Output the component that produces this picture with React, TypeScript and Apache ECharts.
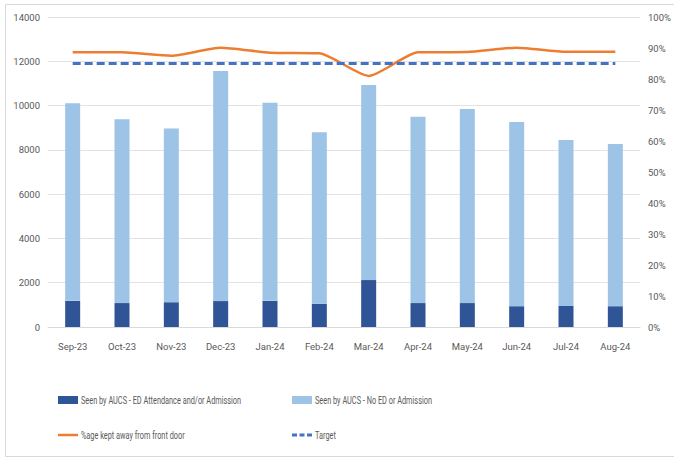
import React, { useEffect, useRef } from "react";
import * as echarts from "echarts";

const months = ["Sep-23", "Oct-23", "Nov-23", "Dec-23", "Jan-24", "Feb-24", "Mar-24", "Apr-24", "May-24", "Jun-24", "Jul-24", "Aug-24"];
const edAttendance = [1180, 1080, 1120, 1170, 1180, 1050, 2120, 1080, 1080, 940, 950, 940];
const noEdAdmission = [8920, 8300, 7850, 10390, 8950, 7740, 8810, 8420, 8770, 8320, 7500, 7330];
const keptAway = [88.6, 88.6, 87.5, 90.1, 88.5, 88.3, 81.0, 88.6, 88.7, 90.1, 88.8, 88.8];
const target = [85, 85, 85, 85, 85, 85, 85, 85, 85, 85, 85, 85];

const NAME_ED = "Seen by AUCS - ED Attendance and/or Admission";
const NAME_NO_ED = "Seen by AUCS - No ED or Admission";
const NAME_KEPT = "%age kept away from front door";
const NAME_TARGET = "Target";

const FONT = "Roboto, 'Liberation Sans', sans-serif";
const TEXT = "#595959";
const DARK = "#2f5597";
const LIGHT = "#9dc3e6";
const ORANGE = "#ed7d31";
const TARGET_BLUE = "#4472c4";

// Condensed legend label, drawn as real text squeezed horizontally
function legendText(x: number, y: number, text: string) {
  return {
    type: "text",
    x,
    y,
    scaleX: 0.7,
    silent: true,
    style: { text, fill: TEXT, fontSize: 10.5, fontFamily: FONT, verticalAlign: "middle", align: "left" },
  };
}

export default function App() {
  const ref = useRef<HTMLDivElement>(null);

  useEffect(() => {
    document.body.style.margin = "0";
    const chart = echarts.init(ref.current!, null, { renderer: "svg" });
    const labelStyle = { color: TEXT, fontSize: 9.5, fontFamily: FONT };
    chart.setOption({
      animation: false,
      textStyle: { fontFamily: FONT },
      legend: { show: false },
      graphic: [
        {
          type: "rect",
          shape: { x: 5.5, y: 4.5, width: 720, height: 452 },
          style: { fill: "none", stroke: "#d9d9d9", lineWidth: 1 },
          silent: true,
        },
        { type: "rect", shape: { x: 58, y: 396, width: 20, height: 8 }, style: { fill: DARK }, silent: true },
        legendText(81, 400.5, NAME_ED),
        { type: "rect", shape: { x: 292, y: 396, width: 20, height: 8 }, style: { fill: LIGHT }, silent: true },
        legendText(315, 400.5, NAME_NO_ED),
        { type: "line", shape: { x1: 58, y1: 435, x2: 78, y2: 435 }, style: { stroke: ORANGE, lineWidth: 2.5 }, silent: true },
        legendText(81, 435.5, NAME_KEPT),
        {
          type: "line",
          shape: { x1: 292, y1: 435, x2: 312, y2: 435 },
          style: { stroke: TARGET_BLUE, lineWidth: 3, lineDash: [5, 2.5] },
          silent: true,
        },
        legendText(315, 435.5, NAME_TARGET),
      ],
      grid: { left: 48, right: 34, top: 17, bottom: 132 },
      xAxis: {
        type: "category",
        data: months,
        axisLine: { lineStyle: { color: "#d9d9d9" } },
        axisTick: { show: false },
        axisLabel: { ...labelStyle, margin: 14 },
      },
      yAxis: [
        {
          type: "value",
          min: 0,
          max: 14000,
          interval: 2000,
          axisLine: { show: false },
          axisTick: { show: false },
          splitLine: { lineStyle: { color: "#e3e3e3" } },
          axisLabel: { ...labelStyle, margin: 8, formatter: (v: number) => String(v) },
        },
        {
          type: "value",
          min: 0,
          max: 100,
          interval: 10,
          position: "right",
          axisLine: { show: false },
          axisTick: { show: false },
          splitLine: { show: false },
          axisLabel: { ...labelStyle, margin: 8, formatter: "{value}%" },
        },
      ],
      series: [
        {
          name: NAME_ED,
          type: "bar",
          stack: "seen",
          data: edAttendance,
          barWidth: 15,
          itemStyle: { color: DARK },
        },
        {
          name: NAME_NO_ED,
          type: "bar",
          stack: "seen",
          data: noEdAdmission,
          barWidth: 15,
          itemStyle: { color: LIGHT },
        },
        {
          name: NAME_KEPT,
          type: "line",
          yAxisIndex: 1,
          data: keptAway,
          symbol: "none",
          smooth: 0.2,
          lineStyle: { color: ORANGE, width: 2.5 },
          itemStyle: { color: ORANGE },
        },
        {
          name: NAME_TARGET,
          type: "line",
          yAxisIndex: 1,
          data: target,
          symbol: "none",
          lineStyle: { color: TARGET_BLUE, width: 3, type: [8, 4] },
          itemStyle: { color: TARGET_BLUE },
        },
      ],
    });
    return () => chart.dispose();
  }, []);

  return <div ref={ref} style={{ width: 674, height: 459 }} />;
}
